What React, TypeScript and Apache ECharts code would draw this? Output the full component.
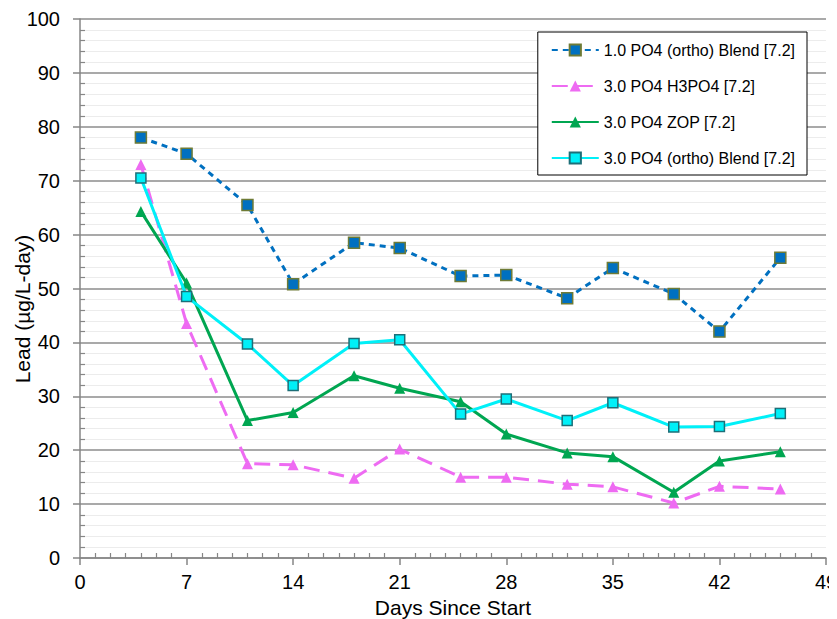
import React, { useEffect, useRef } from "react";
import * as echarts from "echarts";

const days = [4, 7, 11, 14, 18, 21, 25, 28, 32, 35, 39, 42, 46];
const s1Name = "1.0 PO4 (ortho) Blend [7.2]";
const s2Name = "3.0 PO4 H3PO4 [7.2]";
const s3Name = "3.0 PO4 ZOP [7.2]";
const s4Name = "3.0 PO4 (ortho) Blend [7.2]";
const s1 = [78, 75, 65.5, 50.8, 58.5, 57.5, 52.3, 52.5, 48.2, 53.8, 49, 42, 55.7];
const s2 = [73, 43.5, 17.5, 17.3, 14.8, 20.2, 15, 15, 13.7, 13.2, 10.2, 13.3, 12.8];
const s3 = [64.3, 51, 25.5, 27, 33.8, 31.5, 29, 23, 19.5, 18.8, 12.2, 18, 19.7];
const s4 = [70.5, 48.5, 39.7, 32, 39.8, 40.5, 26.7, 29.5, 25.5, 28.8, 24.3, 24.4, 26.8];
const xTitle = "Days Since Start";
const yTitle = "Lead (µg/L-day)";

const pair = (ys: number[]) => days.map((d, i) => [d, ys[i]]);

export default function App() {
  const ref = useRef<HTMLDivElement>(null);
  useEffect(() => {
    const chart = echarts.init(ref.current!, null, { renderer: "svg" });
    const font = "Liberation Sans, Arial, sans-serif";
    const axisGray = "#868686";
    chart.setOption({
      animation: false,
      backgroundColor: "#fff",
      textStyle: { fontFamily: font },
      grid: { left: 72, right: 11, top: 11, bottom: 61, containLabel: false, outerBoundsMode: "none" },
      legend: {
        orient: "vertical",
        right: 30,
        top: 24,
        itemWidth: 47,
        itemHeight: 14,
        itemGap: 20,
        padding: [10, 12, 9, 13],
        borderColor: "#000",
        borderWidth: 1,
        borderRadius: 0,
        backgroundColor: "#fff",
        textStyle: { fontFamily: font, fontSize: 16, color: "#000" },
        data: [s1Name, s2Name, s3Name, s4Name],
      },
      graphic: [
        {
          type: "text",
          x: 14,
          y: 301,
          rotation: Math.PI / 2,
          style: {
            text: yTitle,
            font: `21px ${font}`,
            fill: "#000",
            textAlign: "center",
            textVerticalAlign: "middle",
          },
        },
      ],
      xAxis: [
        {
          type: "value",
          min: 0,
          max: 49,
          interval: 7,
          name: xTitle,
          nameLocation: "middle",
          nameGap: 39,
          nameTextStyle: { fontSize: 21, color: "#000", fontFamily: font },
          axisLine: { show: true, lineStyle: { color: axisGray, width: 1.5 } },
          axisTick: { show: true, length: 7, inside: false, lineStyle: { color: axisGray, width: 1.5 } },
          axisLabel: { fontSize: 20, color: "#000", margin: 14, fontFamily: font },
          splitLine: { show: false },
        },
        {
          type: "value",
          position: "bottom",
          min: 0,
          max: 49,
          interval: 7,
          axisLine: { show: false },
          axisTick: { show: false, inside: true },
          minorTick: { show: true, splitNumber: 7, length: 5, lineStyle: { color: axisGray, width: 1.2 } },
          axisLabel: { show: false },
          splitLine: { show: false },
        },
      ],
      yAxis: [
        {
          type: "value",
          position: "left",
          min: 0,
          max: 100,
          interval: 10,
          axisLine: { show: true, lineStyle: { color: axisGray, width: 1.5 } },
          axisTick: { show: true, length: 7, inside: false, lineStyle: { color: axisGray, width: 1.5 } },
          axisLabel: { fontSize: 20, color: "#000", margin: 20, fontFamily: font },
          splitLine: { show: true, lineStyle: { color: "#8c8c8c", width: 1.5 } },
          minorSplitLine: { show: true, lineStyle: { color: "#ececec", width: 1 } },
          minorTick: { show: false, splitNumber: 5 },
        },
        {
          type: "value",
          position: "left",
          min: 0,
          max: 100,
          interval: 10,
          axisLine: { show: false },
          axisTick: { show: false, inside: true },
          minorTick: { show: true, splitNumber: 5, length: 5, lineStyle: { color: axisGray, width: 1.2 } },
          axisLabel: { show: false },
          splitLine: { show: false },
        },
      ],
      series: [
        {
          name: s1Name,
          type: "line",
          data: pair(s1),
          symbol: "rect",
          symbolSize: 11,
          z: 4,
          lineStyle: { color: "#0070C0", width: 3, type: [6, 5] },
          itemStyle: { color: "#0070C0", borderColor: "#6e7b36", borderWidth: 1.5 },
        },
        {
          name: s2Name,
          type: "line",
          data: pair(s2),
          symbol: "triangle",
          symbolSize: 11,
          z: 1,
          lineStyle: { color: "#EE6BF2", width: 3, type: [16, 9] },
          itemStyle: { color: "#EE6BF2", borderWidth: 0 },
        },
        {
          name: s3Name,
          type: "line",
          data: pair(s3),
          symbol: "triangle",
          symbolSize: 11,
          z: 2,
          lineStyle: { color: "#00A651", width: 3 },
          itemStyle: { color: "#00A651", borderWidth: 0 },
        },
        {
          name: s4Name,
          type: "line",
          data: pair(s4),
          symbol: "rect",
          symbolSize: 10,
          z: 3,
          lineStyle: { color: "#00F0F8", width: 3 },
          itemStyle: { color: "#00F0F8", borderColor: "#1d6f78", borderWidth: 1.5 },
        },
      ],
    });
    return () => chart.dispose();
  }, []);
  return <div ref={ref} style={{ width: 829, height: 611 }} />;
}
